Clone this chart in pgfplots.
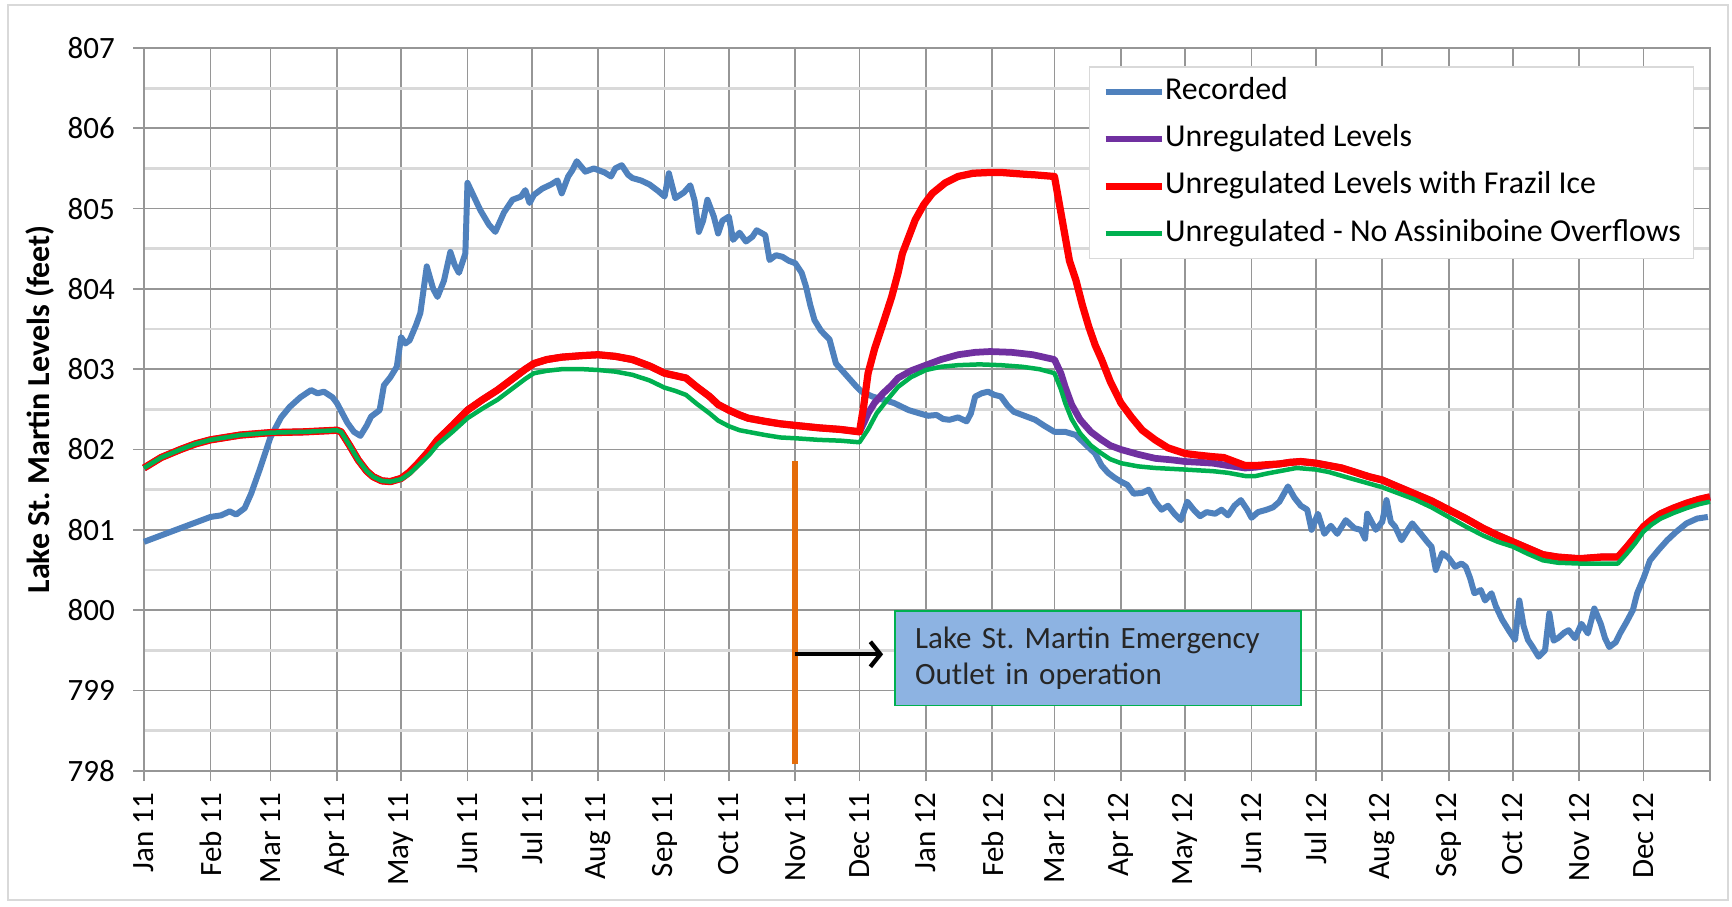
\documentclass[border=0pt]{standalone}
\usepackage{fontspec}
\setmainfont{Carlito}
\usepackage{pgfplots}
\pgfplotsset{compat=1.18}
\usetikzlibrary{arrows.meta}
\definecolor{recblue}{HTML}{4F81BD}
\definecolor{unpurple}{HTML}{7030A0}
\definecolor{frred}{HTML}{FF0000}
\definecolor{nogreen}{HTML}{00B050}
\definecolor{outorange}{HTML}{E46C0A}
\definecolor{boxblue}{HTML}{8DB3E2}
\definecolor{majgrid}{HTML}{969696}
\definecolor{mingrid}{HTML}{D9D9D9}
\newcommand{\fs}{\fontsize{12.4}{14.6}\selectfont}
\newcommand{\fl}{\fontsize{12.75}{15}\selectfont}
\frenchspacing
\begin{document}
\frenchspacing
\begin{tikzpicture}
\begin{axis}[
  scale only axis, width=626.4pt, height=289.1pt,
  xmin=0, xmax=731, ymin=798, ymax=807,
  clip=false,
  xtick={0,31,59,90,120,151,181,212,243,273,304,334,365,396,425,456,486,517,547,578,609,639,670,700,731},
  xticklabels={Jan 11,Feb 11,Mar 11,Apr 11,May 11,Jun 11,Jul 11,Aug 11,Sep 11,Oct 11,Nov 11,Dec 11,Jan 12,Feb 12,Mar 12,Apr 12,May 12,Jun 12,Jul 12,Aug 12,Sep 12,Oct 12,Nov 12,Dec 12,{}},
  ytick={798,799,...,807},
  minor ytick={798.5,799.5,...,806.5},
  grid=both,
  major grid style={draw=majgrid, line width=0.7pt},
  minor grid style={draw=mingrid, line width=1.1pt},
  axis line style={draw=majgrid, line width=0.7pt},
  tick style={draw=majgrid, line width=0.7pt},
  tick align=outside, major tick length=4.2pt, minor tick length=0pt,
  xtick pos=lower, ytick pos=left,
  xticklabel shift=4.4pt, yticklabel shift=7.3pt,
  /pgf/number format/assume math mode=true,
  yticklabel style={font=\fs, inner sep=0pt, anchor=east},
  xticklabel style={font=\fs, inner sep=0pt, rotate=90, anchor=east},
  legend style={at={(rel axis cs:0.9898,0.975)}, anchor=north east,
    draw=mingrid, fill=white, line width=0.6pt, font=\fl,
    inner xsep=5pt, inner ysep=4pt, row sep=6.9pt,
    nodes={inner xsep=0pt, inner ysep=0pt, text height=9pt, text depth=3pt},
    /tikz/every even column/.append style={column sep=0pt}},
  legend cell align=left,
  legend image code/.code={\draw[#1] (0pt,0pt) -- (22.4pt,0pt);},
]
\addplot[recblue, line width=2.4pt, line join=round] coordinates {
(0,800.85) (10,800.95) (20,801.05) (31,801.16) (36,801.18) (40,801.23) (43,801.19) (47,801.27) (50,801.45) (54,801.75)
(59,802.15) (64,802.40) (68,802.53) (73,802.65) (78,802.74) (81,802.70) (84,802.72) (88,802.65) (90,802.58) (95,802.33)
(98,802.22) (101,802.17) (104,802.30) (106,802.41) (108,802.45) (110,802.49) (112,802.80) (115,802.90) (118,803.03) (120,803.40)
(122,803.32) (124,803.36) (127,803.55) (129,803.70) (132,804.28) (135,804.00) (137,803.90) (140,804.10) (143,804.46) (145,804.30)
(147,804.20) (150,804.44) (151,805.32) (154,805.15) (157,804.98) (161,804.80) (164,804.71) (168,804.95) (172,805.11) (176,805.15)
(178,805.23) (180,805.07) (182,805.17) (186,805.25) (190,805.30) (193,805.35) (195,805.19) (198,805.40) (200,805.48) (202,805.59)
(206,805.46) (210,805.50) (212,805.48) (215,805.45) (218,805.40) (220,805.50) (223,805.54) (226,805.42) (228,805.38) (232,805.35)
(236,805.30) (240,805.22) (243,805.15) (245,805.44) (248,805.13) (252,805.20) (255,805.29) (257,805.10) (259,804.71) (261,804.85)
(263,805.11) (266,804.90) (268,804.69) (270,804.85) (273,804.90) (275,804.61) (278,804.70) (281,804.59) (284,804.65) (286,804.73)
(288,804.70) (290,804.67) (292,804.36) (295,804.42) (298,804.40) (301,804.35) (304,804.32) (307,804.20) (309,804.03) (311,803.80)
(313,803.61) (316,803.48) (320,803.37) (323,803.07) (326,802.98) (329,802.89) (332,802.80) (335,802.72) (340,802.66) (345,802.62)
(350,802.58) (357,802.49) (362,802.45) (366,802.42) (370,802.43) (373,802.38) (376,802.37) (380,802.40) (384,802.35) (386,802.45)
(388,802.66) (391,802.70) (394,802.72) (397,802.68) (400,802.66) (403,802.55) (406,802.47) (410,802.43) (416,802.37) (420,802.30)
(425,802.22) (430,802.22) (435,802.18) (440,802.05) (444,801.95) (447,801.80) (450,801.71) (453,801.65) (456,801.60) (459,801.56)
(462,801.45) (466,801.46) (469,801.50) (472,801.35) (475,801.25) (478,801.30) (481,801.20) (484,801.12) (487,801.35) (490,801.25)
(493,801.17) (496,801.22) (500,801.20) (503,801.25) (506,801.18) (509,801.30) (512,801.37) (515,801.25) (517,801.15) (520,801.22)
(524,801.25) (527,801.28) (530,801.35) (534,801.54) (537,801.40) (540,801.30) (543,801.25) (545,801.00) (548,801.20) (551,800.95)
(554,801.05) (557,800.95) (561,801.12) (565,801.02) (568,801.00) (570,800.89) (571,801.20) (575,801.00) (578,801.10) (580,801.37)
(582,801.10) (584,801.04) (587,800.87) (590,801.00) (592,801.08) (596,800.95) (599,800.85) (601,800.79) (603,800.50) (606,800.71)
(609,800.65) (612,800.54) (615,800.58) (617,800.54) (619,800.40) (621,800.21) (624,800.25) (626,800.12) (629,800.21) (631,800.05)
(634,799.88) (637,799.75) (640,799.63) (642,800.12) (644,799.80) (646,799.63) (648,799.55) (651,799.42) (654,799.50) (656,799.96)
(658,799.62) (660,799.65) (663,799.72) (665,799.75) (668,799.65) (671,799.83) (674,799.71) (677,800.02) (680,799.83) (682,799.65)
(684,799.54) (687,799.60) (689,799.71) (692,799.85) (695,800.00) (697,800.21) (700,800.40) (703,800.62) (707,800.75) (711,800.87)
(715,800.97) (720,801.08) (725,801.14) (730,801.16)
};
\addlegendentry{Recorded}
\addplot[unpurple, line width=2.7pt, line join=round] coordinates {
(0,801.77) (8,801.90) (17,802.00) (24,802.07) (31,802.12) (45,802.18) (59,802.21) (75,802.22) (90,802.24) (92,802.22)
(96,802.05) (100,801.87) (104,801.73) (107,801.66) (111,801.61) (115,801.60) (120,801.64) (124,801.72) (128,801.83) (133,801.98)
(137,802.12) (144,802.30) (151,802.49) (158,802.62) (165,802.74) (172,802.88) (178,803.00) (182,803.07) (188,803.12) (195,803.15)
(205,803.17) (212,803.18) (220,803.16) (228,803.12) (236,803.04) (243,802.95) (248,802.92) (253,802.89) (258,802.78) (264,802.66)
(268,802.56) (273,802.49) (278,802.43) (282,802.39) (290,802.35) (297,802.32) (304,802.30) (315,802.27) (325,802.25) (334,802.22)
(336,802.33) (338,802.45) (341,802.58) (345,802.70) (349,802.80) (352,802.89) (358,802.98) (365,803.05) (372,803.12) (380,803.18)
(388,803.21) (395,803.22) (405,803.21) (415,803.18) (425,803.12) (428,802.95) (430,802.78) (433,802.56) (437,802.37) (442,802.22)
(447,802.12) (451,802.05) (456,802.00) (464,801.94) (472,801.89) (480,801.87) (486,801.85) (493,801.84) (499,801.83) (506,801.80)
(514,801.77) (519,801.78) (524,801.80) (530,801.82) (535,801.84) (540,801.85) (547,801.83) (553,801.80) (559,801.77) (565,801.72)
(572,801.66) (578,801.62) (585,801.54) (593,801.45) (601,801.36) (609,801.25) (617,801.14) (625,801.02) (632,800.93) (639,800.85)
(646,800.77) (653,800.69) (660,800.66) (670,800.64) (680,800.66) (688,800.66) (692,800.78) (696,800.91) (700,801.04) (704,801.13)
(708,801.20) (714,801.27) (720,801.33) (726,801.38) (731,801.41)
};
\addlegendentry{Unregulated Levels}
\addplot[frred, line width=2.9pt, line join=round] coordinates {
(0,801.77) (8,801.90) (17,802.00) (24,802.07) (31,802.12) (45,802.18) (59,802.21) (75,802.22) (90,802.24) (92,802.22)
(96,802.05) (100,801.87) (104,801.73) (107,801.66) (111,801.61) (115,801.60) (120,801.64) (124,801.72) (128,801.83) (133,801.98)
(137,802.12) (144,802.30) (151,802.49) (158,802.62) (165,802.74) (172,802.88) (178,803.00) (182,803.07) (188,803.12) (195,803.15)
(205,803.17) (212,803.18) (220,803.16) (228,803.12) (236,803.04) (243,802.95) (248,802.92) (253,802.89) (258,802.78) (264,802.66)
(268,802.56) (273,802.49) (278,802.43) (282,802.39) (290,802.35) (297,802.32) (304,802.30) (315,802.27) (325,802.25) (334,802.22)
(336,802.55) (338,802.95) (341,803.25) (345,803.57) (349,803.90) (352,804.20) (354,804.44) (357,804.65) (360,804.86) (364,805.05)
(368,805.19) (374,805.32) (380,805.40) (387,805.44) (395,805.45) (400,805.45) (410,805.43) (416,805.42) (425,805.40) (427,805.10)
(430,804.65) (432,804.35) (435,804.11) (438,803.80) (441,803.53) (444,803.30) (447,803.12) (451,802.85) (456,802.58) (461,802.40)
(466,802.24) (472,802.12) (478,802.02) (486,801.95) (492,801.93) (499,801.91) (504,801.90) (509,801.85) (514,801.80) (519,801.80)
(524,801.81) (530,801.82) (535,801.84) (540,801.85) (547,801.83) (553,801.80) (559,801.77) (565,801.72) (572,801.66) (578,801.62)
(585,801.54) (593,801.45) (601,801.36) (609,801.25) (617,801.14) (625,801.02) (632,800.93) (639,800.85) (646,800.77) (653,800.69)
(660,800.66) (670,800.64) (680,800.66) (688,800.66) (692,800.78) (696,800.91) (700,801.04) (704,801.13) (708,801.20) (714,801.27)
(720,801.33) (726,801.38) (731,801.41)
};
\addlegendentry{Unregulated Levels with Frazil Ice}
\addplot[nogreen, line width=1.8pt, line join=round] coordinates {
(0,801.77) (8,801.90) (17,802.00) (24,802.07) (31,802.12) (45,802.18) (59,802.21) (75,802.22) (90,802.24) (92,802.22)
(96,802.05) (100,801.87) (104,801.73) (107,801.66) (111,801.61) (115,801.60) (120,801.63) (124,801.70) (128,801.80) (133,801.93)
(137,802.06) (144,802.22) (151,802.39) (158,802.51) (165,802.62) (172,802.76) (178,802.88) (182,802.95) (188,802.98) (195,803.00)
(205,803.00) (212,802.99) (220,802.97) (228,802.93) (236,802.86) (243,802.77) (248,802.73) (253,802.68) (258,802.57) (264,802.45)
(268,802.36) (273,802.29) (278,802.24) (282,802.22) (290,802.18) (297,802.15) (304,802.14) (315,802.12) (325,802.11) (334,802.09)
(338,802.25) (342,802.45) (347,802.62) (352,802.78) (358,802.90) (365,802.99) (372,803.03) (380,803.05) (390,803.06) (400,803.05)
(410,803.03) (418,803.00) (425,802.95) (428,802.75) (430,802.58) (433,802.38) (437,802.20) (442,802.05) (447,801.95) (451,801.88)
(456,801.83) (464,801.79) (472,801.77) (486,801.75) (499,801.73) (506,801.71) (514,801.67) (519,801.67) (524,801.70) (530,801.73)
(538,801.77) (547,801.75) (553,801.72) (562,801.65) (570,801.59) (578,801.53) (585,801.46) (593,801.38) (601,801.28) (609,801.16)
(617,801.04) (625,800.93) (632,800.85) (639,800.79) (646,800.70) (653,800.62) (660,800.59) (670,800.58) (680,800.58) (688,800.58)
(692,800.70) (696,800.83) (700,800.98) (704,801.07) (708,801.14) (714,801.21) (720,801.27) (726,801.32) (731,801.35)
};
\addlegendentry{Unregulated - No Assiniboine Overflows}
\addplot[outorange, line width=2.5pt, forget plot] coordinates {(304,798.08) (304,801.86)};
\draw[black, line width=1.7pt, -{Straight Barb[length=4pt, width=10pt]}] (axis cs:304,799.45) -- (axis cs:345,799.45);
\node[draw=nogreen, line width=0.6pt, fill=boxblue, anchor=north west, font=\fs, text=black!85,
  text width=146.4pt, inner xsep=8pt, inner ysep=0pt, minimum height=37.8pt, align=left]
  at (axis cs:350.3,800) {Lake St. Martin Emergency\\Outlet in operation};
\node[rotate=90, font=\fontsize{12.8}{15}\selectfont\bfseries, anchor=center]
  at ([xshift=-41.6pt]rel axis cs:0,0.5) {Lake St. Martin Levels (feet)};
\end{axis}
\draw[mingrid, line width=0.8pt] ([shift={(-54.4pt,-51.7pt)}]current axis.south west) rectangle ([shift={(7.2pt,17.2pt)}]current axis.north east);
\pgfresetboundingbox
\path[use as bounding box] ([shift={(-57.6pt,-54.5pt)}]current axis.south west) rectangle ([shift={(8.8pt,19.2pt)}]current axis.north east);
\end{tikzpicture}
\end{document}
